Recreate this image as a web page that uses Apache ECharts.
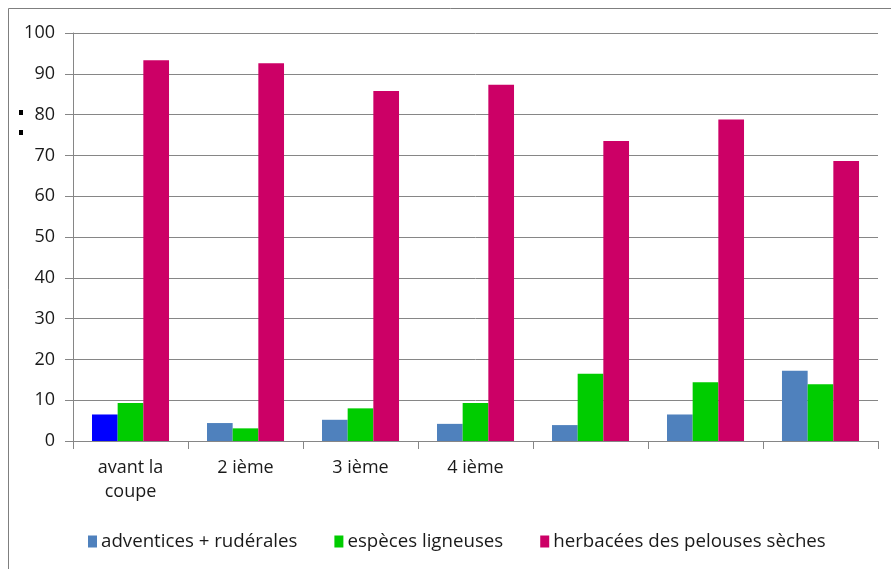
<!DOCTYPE html>
<html>
<head>
<meta charset="utf-8">
<script src="https://cdn.jsdelivr.net/npm/echarts@6/dist/echarts.min.js"></script>
<style>html,body{margin:0;padding:0;background:#fff;}#c{width:891px;height:569px;}</style>
</head>
<body>
<div id="c"></div>
<script>
const categories = ["avant la\ncoupe", "2 ième", "3 ième", "4 ième", "", "", ""];
const seriesNames = ["adventices + rudérales", "espèces ligneuses", "herbacées des pelouses sèches"];
const adventices = [6.5, 4.4, 5.2, 4.2, 3.9, 6.5, 17.2];
const ligneuses = [9.3, 3.1, 8.0, 9.3, 16.5, 14.4, 13.9];
const herbacees = [93.3, 92.6, 85.8, 87.3, 73.5, 78.8, 68.6];
const yTicks = [0, 10, 20, 30, 40, 50, 60, 70, 80, 90, 100];

const FONT = '"Open Sans", Lato, sans-serif';
const chart = echarts.init(document.getElementById('c'), null, {renderer: 'canvas'});
const advData = adventices.map((v, i) => i === 0 ? {value: v, itemStyle: {color: '#0000FF'}} : v);
chart.setOption({
  animation: false,
  backgroundColor: '#fff',
  textStyle: {fontFamily: FONT},
  graphic: [
    {type: 'rect', shape: {x: 8.5, y: 8.5, width: 1000, height: 1000}, style: {fill: 'none', stroke: '#7f7f7f', lineWidth: 1}, z: -10},
    {type: 'rect', shape: {x: 19, y: 110, width: 4, height: 5}, style: {fill: '#000'}},
    {type: 'rect', shape: {x: 19, y: 130, width: 4, height: 5}, style: {fill: '#000'}}
  ],
  grid: {left: 73, right: 13, top: 33, bottom: 128, containLabel: false},
  legend: {
    data: seriesNames,
    bottom: 13,
    left: 83,
    itemWidth: 9,
    itemHeight: 12,
    itemGap: 37,
    icon: 'rect',
    textStyle: {fontFamily: FONT, fontSize: 18.7, color: '#1a1a1a', padding: [0, 0, 0, -1]}
  },
  xAxis: {
    type: 'category',
    data: categories,
    axisLine: {lineStyle: {color: '#868686', width: 1}},
    axisTick: {show: true, length: 8, lineStyle: {color: '#868686'}, alignWithLabel: false},
    axisLabel: {fontFamily: FONT, fontSize: 18, color: '#1a1a1a', margin: 15, lineHeight: 24, interval: 0}
  },
  yAxis: {
    type: 'value',
    min: 0, max: 100, interval: 10,
    axisLine: {show: true, lineStyle: {color: '#868686', width: 1}},
    axisTick: {show: true, length: 8, lineStyle: {color: '#868686'}},
    splitLine: {show: true, lineStyle: {color: '#868686', width: 1}},
    axisLabel: {fontFamily: FONT, fontSize: 18, color: '#1a1a1a', margin: 18,
      formatter: v => yTicks.includes(v) ? String(v) : ''}
  },
  series: [
    {name: seriesNames[0], type: 'bar', data: advData, itemStyle: {color: '#4F81BD'}, barGap: '0%', barCategoryGap: '33%'},
    {name: seriesNames[1], type: 'bar', data: ligneuses, itemStyle: {color: '#00CC00'}, barGap: '0%', barCategoryGap: '33%'},
    {name: seriesNames[2], type: 'bar', data: herbacees, itemStyle: {color: '#CC0066'}, barGap: '0%', barCategoryGap: '33%'}
  ]
});
</script>
</body>
</html>
